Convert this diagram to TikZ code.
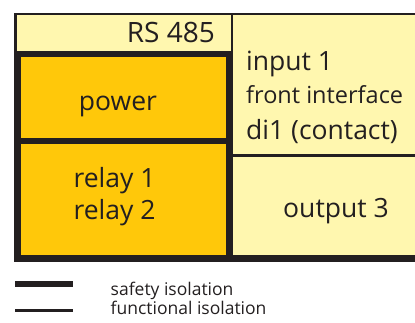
\documentclass[tikz,border=0pt]{standalone}
\usepackage{fontspec}
\setmainfont{Open Sans}
\definecolor{inkdark}{HTML}{231F20}
\definecolor{boxorange}{HTML}{FFC80A}
\definecolor{boxpale}{HTML}{FFF7AF}
\newcommand{\bigtxt}{\fontsize{26.5}{31}\selectfont}
\begin{document}
\begin{tikzpicture}[x=1pt, y=-1pt, text=inkdark,
        funcbox/.style={draw=inkdark, line width=2.5, fill=boxpale, outer sep=0, inner sep=0},
        safebox/.style={draw=inkdark, line width=6.5, fill=boxorange, outer sep=0, inner sep=0},
        lbl/.style={font=\bigtxt, anchor=base, inner sep=0},
        legend/.style={font=\fontsize{17.5}{20}\selectfont, anchor=base west, inner sep=0}]
    \clip (0,0) rectangle (415,322);
    % functional isolation (thin frame)
    \node[funcbox, minimum width=216.5, minimum height=40] (rs) at (123.75,34) {};
    \node[funcbox, minimum width=193, minimum height=141.5] (input) at (328.5,84.75) {};
    \node[funcbox, minimum width=193, minimum height=103] (output) at (328.5,207) {};
    % safety isolation (thick frame)
    \node[safebox, minimum width=211.5, minimum height=87] (power) at (123.25,97.5) {};
    \node[safebox, minimum width=211.5, minimum height=117.5] (relay) at (123.25,199.75) {};
    \draw[inkdark, line width=6.5] (relay.south east) -- (output.south east);
    % texts
    \node[lbl, anchor=base east, font=\fontsize{28}{32}\selectfont] (rstxt) at (215,42.7) {RS 485};
    \node[lbl] (powertxt) at (118,110.7) {power};
    \node[lbl] (relayone) at (114.5,187.7) {relay 1};
    \node[lbl] (relaytwo) at (114.5,219.3) {relay 2};
    \node[lbl, anchor=base west] (inone) at (246,70.5) {input 1};
    \node[lbl, anchor=base west, font=\fontsize{23.5}{28}\selectfont] (front) at (246,103) {front interface};
    \node[lbl, anchor=base west] (dione) at (246,139) {di1 (contact)};
    \node[lbl] (outthree) at (336,217.3) {output 3};
    % legend
    \draw[inkdark, line width=6] (15,284) -- (73,284);
    \draw[inkdark, line width=3] (15,310) -- (73,310);
    \node[legend] (safetxt) at (110.5,295.5) {safety isolation};
    \node[legend] (functxt) at (110.5,314.7) {functional isolation};
\end{tikzpicture}
\end{document}
